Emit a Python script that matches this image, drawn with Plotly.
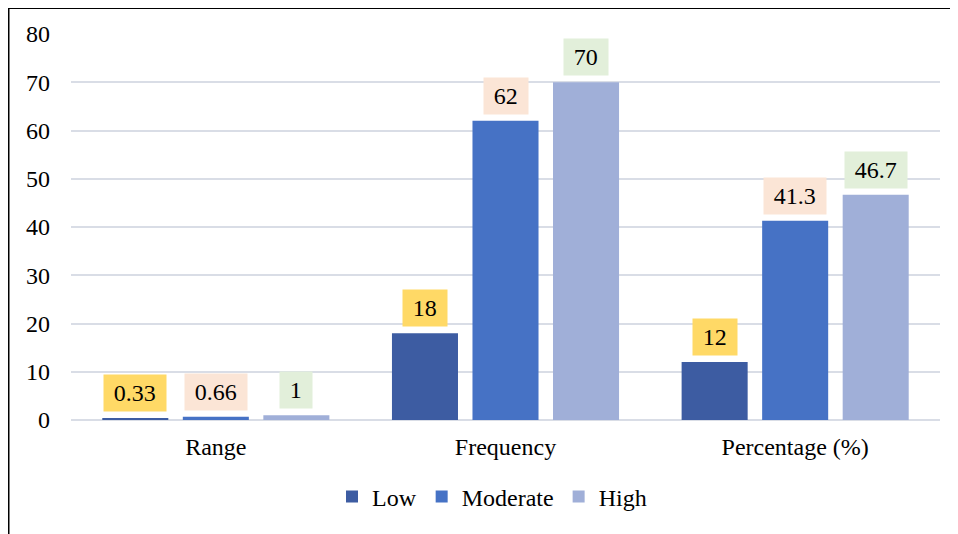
import plotly.graph_objects as go

categories = ["Range", "Frequency", "Percentage (%)"]
series_names = ["Low", "Moderate", "High"]
low_values = [0.33, 18, 12]
moderate_values = [0.66, 62, 41.3]
high_values = [1, 70, 46.7]
value_labels = {
    "Low": ["0.33", "18", "12"],
    "Moderate": ["0.66", "62", "41.3"],
    "High": ["1", "70", "46.7"],
}
y_ticks = [0, 10, 20, 30, 40, 50, 60, 70, 80]

bar_colors = {"Low": "#3d5ca2", "Moderate": "#4672c5", "High": "#a0afd8"}
label_bg = {"Low": "#ffd966", "Moderate": "#fbe5d6", "High": "#e2efda"}

FONT = "Liberation Serif"
FS = 24

fig = go.Figure()
series_values = {"Low": low_values, "Moderate": moderate_values, "High": high_values}
for name in series_names:
    fig.add_trace(go.Bar(
        x=categories, y=series_values[name], name=name,
        marker=dict(color=bar_colors[name], line=dict(width=0)),
    ))

# figure geometry (page has an 8px body margin)
W, H = 950, 526
L, R, T, B = 63, 18, 26, 114
plot_w = W - L - R
plot_h = H - T - B
slot = plot_w / len(categories) * (1 - 0.166) / 3

for si, name in enumerate(series_names):
    for ci, cat in enumerate(categories):
        fig.add_annotation(
            x=cat, y=series_values[name][ci], xref="x", yref="y",
            text="\u2009" + value_labels[name][ci] + "\u2009",
            showarrow=False, yanchor="bottom", xanchor="center",
            xshift=(si - 1) * slot, yshift=6,
            bgcolor=label_bg[name], borderpad=5,
            font=dict(family=FONT, size=FS, color="black"),
        )

def px_x(p):
    return (p - L) / plot_w
def px_y(p):
    return (H - B - p) / plot_h

# outer frame lines (top and left), as in the cropped source
fig.add_shape(type="line", xref="paper", yref="paper",
              x0=px_x(0), x1=px_x(W), y0=px_y(0), y1=px_y(0),
              line=dict(color="black", width=2))
fig.add_shape(type="line", xref="paper", yref="paper",
              x0=px_x(0.5), x1=px_x(0.5), y0=px_y(0), y1=px_y(H),
              line=dict(color="black", width=2))

fig.update_layout(
    width=W, height=H,
    margin=dict(l=L, r=R, t=T, b=B),
    paper_bgcolor="white", plot_bgcolor="white",
    barmode="group", bargap=0.166, bargroupgap=0.18,
    font=dict(family=FONT, size=FS, color="black"),
    showlegend=True,
    legend=dict(orientation="h", x=px_x(484), xanchor="center",
                y=px_y(489), yanchor="middle",
                font=dict(family=FONT, size=FS, color="black"),
                itemwidth=30, traceorder="normal"),
    xaxis=dict(showgrid=False, showline=False, ticks="",
               ticklabelstandoff=10,
               tickfont=dict(family=FONT, size=FS, color="black")),
    yaxis=dict(range=[0, 80], tickvals=y_ticks, showgrid=True,
               gridcolor="#d9dde6", gridwidth=1.5, zeroline=True,
               zerolinecolor="#d9dde6", zerolinewidth=1.5,
               showline=False, ticks="", ticklabelstandoff=20,
               tickfont=dict(family=FONT, size=FS, color="black")),
)

fig.write_html("out.html")
